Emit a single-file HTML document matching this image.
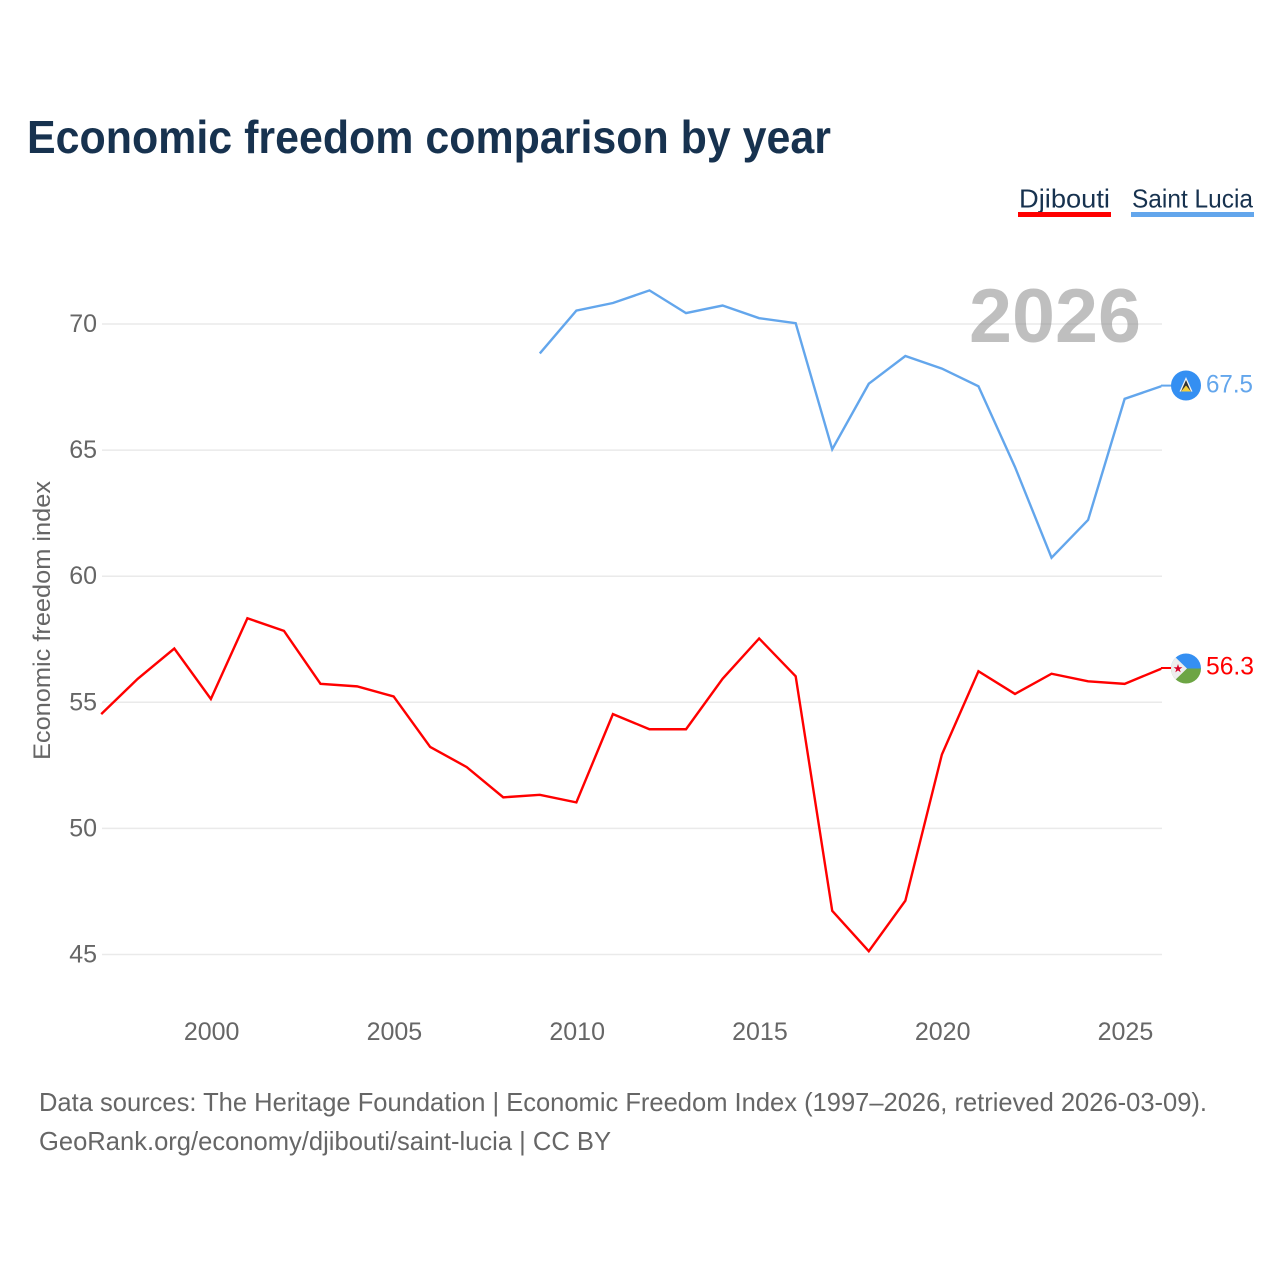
<!DOCTYPE html>
<html lang="en">
<head>
<meta charset="utf-8">
<title>Economic freedom comparison by year</title>
<style>
html,body{margin:0;padding:0;background:#fff;}
svg{display:block;font-family:"Liberation Sans",sans-serif;}
</style>
</head>
<body>
<svg id="chart" width="1280" height="1280" viewBox="0 0 1280 1280" xmlns="http://www.w3.org/2000/svg">
  <rect width="1280" height="1280" fill="#ffffff"/>
  <text x="27" y="153" font-size="46" font-weight="700" fill="#17324f" textLength="804" lengthAdjust="spacingAndGlyphs">Economic freedom comparison by year</text>

  <g>
    <g>
      <text x="1019" y="207.5" font-size="26" fill="#17324f" textLength="91" lengthAdjust="spacingAndGlyphs">Djibouti</text>
      <rect x="1018" y="212" width="93" height="5" fill="#ff0000"/>
    </g>
    <g>
      <text x="1132" y="207.5" font-size="26" fill="#17324f" textLength="121" lengthAdjust="spacingAndGlyphs">Saint Lucia</text>
      <rect x="1131" y="212" width="123" height="5" fill="#63a6ec"/>
    </g>
  </g>

  <g id="grid"></g>
  <g id="yticks"></g>
  <g id="xticks"></g>

  <text x="969" y="342" font-size="76" font-weight="700" fill="#808080" fill-opacity="0.5" textLength="172" lengthAdjust="spacingAndGlyphs">2026</text>

  <text transform="translate(50,760) rotate(-90)" font-size="24" fill="#666666" textLength="279" lengthAdjust="spacingAndGlyphs">Economic freedom index</text>

  <g id="series" transform="translate(-0.8,-0.8)"></g>

  <g>
    <line x1="1161" y1="385.6" x2="1172" y2="385.6" stroke="#63a6ec" stroke-width="2"/>
    <circle cx="1186" cy="385.5" r="15" fill="#348ff2"/>
    <polygon points="1186,377 1192.5,391.5 1179.5,391.5" fill="#f4f4f4"/>
    <polygon points="1186,380 1191,391.5 1181,391.5" fill="#333333"/>
    <polygon points="1186,385.5 1191,391.5 1181,391.5" fill="#f5cf3c"/>
  </g>
  <text x="1206" y="392.5" font-size="25" fill="#63a6ec" textLength="47" lengthAdjust="spacingAndGlyphs">67.5</text>

  <g>
    <line x1="1161" y1="668" x2="1172" y2="668" stroke="#ff0000" stroke-width="2"/>
    <clipPath id="djClip"><circle cx="1186" cy="668.5" r="15"/></clipPath>
    <g clip-path="url(#djClip)">
      <rect x="1171" y="653" width="30" height="15.5" fill="#348ff2"/>
      <rect x="1171" y="668.5" width="30" height="15.5" fill="#6da544"/>
      <polygon points="1171,653 1187,668.5 1171,684" fill="#eeeeee"/>
    </g>
    <polygon points="1178,664 1179.1,667.2 1182.4,667.2 1179.7,669.2 1180.7,672.4 1178,670.4 1175.3,672.4 1176.3,669.2 1173.6,667.2 1176.9,667.2" fill="#d80027"/>
  </g>
  <text x="1206" y="674.5" font-size="25" fill="#ff0000" textLength="48" lengthAdjust="spacingAndGlyphs">56.3</text>

  <text x="39" y="1111" font-size="26" fill="#666666" textLength="1168" lengthAdjust="spacingAndGlyphs">Data sources: The Heritage Foundation | Economic Freedom Index (1997–2026, retrieved 2026-03-09).</text>
  <text x="39" y="1150" font-size="26" fill="#666666" textLength="572" lengthAdjust="spacingAndGlyphs">GeoRank.org/economy/djibouti/saint-lucia | CC BY</text>
</svg>
<script>
const years = [1997,1998,1999,2000,2001,2002,2003,2004,2005,2006,2007,2008,2009,2010,2011,2012,2013,2014,2015,2016,2017,2018,2019,2020,2021,2022,2023,2024,2025,2026];
const djiboutiValues = [54.5,55.9,57.1,55.1,58.3,57.8,55.7,55.6,55.2,53.2,52.4,51.2,51.3,51.0,54.5,53.9,53.9,55.9,57.5,56.0,46.7,45.1,47.1,52.9,56.2,55.3,56.1,55.8,55.7,56.3];
const saintLuciaValues = [null,null,null,null,null,null,null,null,null,null,null,null,68.8,70.5,70.8,71.3,70.4,70.7,70.2,70.0,65.0,67.6,68.7,68.2,67.5,64.3,60.7,62.2,67.0,67.5];
const yTickValues = [45,50,55,60,65,70];
const xTickValues = [2000,2005,2010,2015,2020,2025];

const NS = 'http://www.w3.org/2000/svg';
function xScale(year){ return 102 + (year - 1997) * (1162 - 102) / 29; }
function yScale(value){ return 954.5 - (value - 45) * (954.5 - 324) / 25; }

const gridGroup = document.getElementById('grid');
const yTickGroup = document.getElementById('yticks');
const xTickGroup = document.getElementById('xticks');
const seriesGroup = document.getElementById('series');

yTickValues.forEach(function(v){
  const line = document.createElementNS(NS, 'line');
  
  
  line.setAttribute('x1', 102);
  line.setAttribute('x2', 1162);
  line.setAttribute('y1', yScale(v));
  line.setAttribute('y2', yScale(v));
  line.setAttribute('stroke', '#eaeaea');
  line.setAttribute('stroke-width', 1.5);
  gridGroup.appendChild(line);

  const label = document.createElementNS(NS, 'text');
  
  
  label.setAttribute('x', 97);
  label.setAttribute('y', yScale(v) + 8);
  label.setAttribute('text-anchor', 'end');
  label.setAttribute('font-size', 25);
  label.setAttribute('fill', '#666666');
  label.textContent = v;
  yTickGroup.appendChild(label);
});

xTickValues.forEach(function(t){
  const label = document.createElementNS(NS, 'text');
  
  
  label.setAttribute('x', xScale(t));
  label.setAttribute('y', 1040);
  label.setAttribute('text-anchor', 'middle');
  label.setAttribute('font-size', 25);
  label.setAttribute('fill', '#666666');
  label.textContent = t;
  xTickGroup.appendChild(label);
});

function pathFor(values){
  let d = '';
  let started = false;
  values.forEach(function(v, i){
    if (v === null) { started = false; return; }
    d += (started ? 'L' : 'M') + xScale(years[i]).toFixed(2) + ' ' + yScale(v).toFixed(2);
    started = true;
  });
  return d;
}

const djiboutiLine = document.createElementNS(NS, 'path');


djiboutiLine.setAttribute('d', pathFor(djiboutiValues));
djiboutiLine.setAttribute('fill', 'none');
djiboutiLine.setAttribute('stroke', '#ff0000');
djiboutiLine.setAttribute('stroke-width', 2.4);
seriesGroup.appendChild(djiboutiLine);

const saintLuciaLine = document.createElementNS(NS, 'path');


saintLuciaLine.setAttribute('d', pathFor(saintLuciaValues));
saintLuciaLine.setAttribute('fill', 'none');
saintLuciaLine.setAttribute('stroke', '#63a6ec');
saintLuciaLine.setAttribute('stroke-width', 2.4);
seriesGroup.appendChild(saintLuciaLine);
</script>
</body>
</html>
